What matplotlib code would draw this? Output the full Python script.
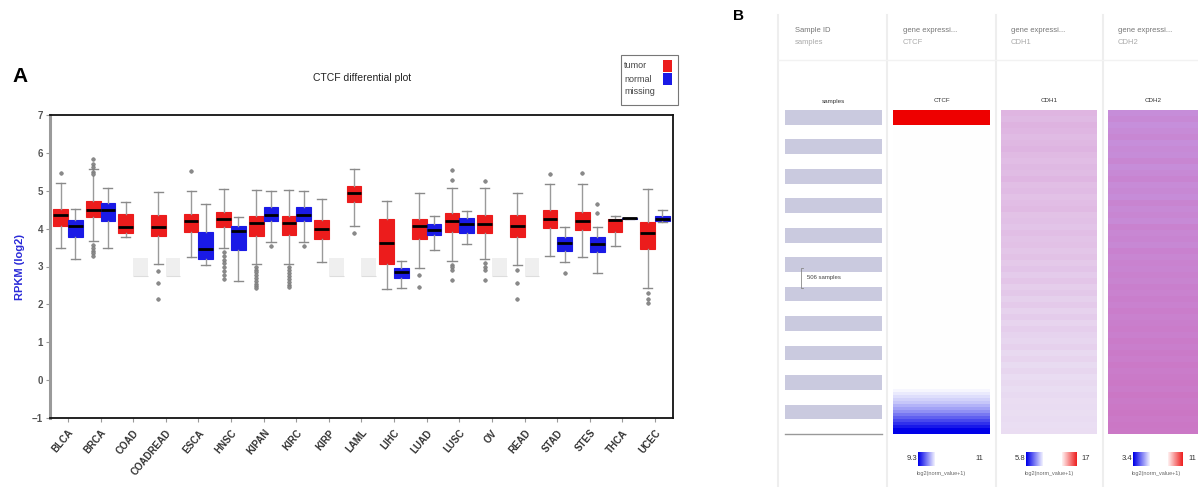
import numpy as np
import matplotlib
matplotlib.use("Agg")
from matplotlib import pyplot as plt
from matplotlib.patches import Rectangle
from matplotlib.colors import LinearSegmentedColormap, ListedColormap, Normalize

plt.rcParams['font.family'] = ['Liberation Sans', 'DejaVu Sans']

# ---- panel A data (RPKM log2) ----
cancers = ['BLCA', 'BRCA', 'COAD', 'COADREAD', 'ESCA', 'HNSC', 'KIPAN', 'KIRC', 'KIRP',
           'LAML', 'LIHC', 'LUAD', 'LUSC', 'OV', 'READ', 'STAD', 'STES', 'THCA', 'UCEC']

tumor_med = [4.36, 4.50, 4.04, 4.04, 4.19, 4.26, 4.14, 4.15, 3.99, 4.94, 3.61, 4.08, 4.19, 4.12, 4.06, 4.26, 4.21, 4.23, 3.88]
tumor_q1 = [4.08, 4.30, 3.88, 3.81, 3.90, 4.05, 3.81, 3.83, 3.73, 4.70, 3.06, 3.73, 3.90, 3.88, 3.79, 4.01, 3.97, 3.90, 3.46]
tumor_q3 = [4.52, 4.74, 4.39, 4.37, 4.39, 4.43, 4.33, 4.33, 4.23, 5.12, 4.26, 4.26, 4.41, 4.35, 4.36, 4.48, 4.43, 4.26, 4.17]
tumor_lo = [3.50, 3.68, 3.77, 3.06, 3.24, 3.50, 3.06, 3.06, 3.12, 4.08, 2.40, 2.96, 3.15, 3.19, 3.04, 3.28, 3.26, 3.55, 2.44]
tumor_hi = [5.21, 5.58, 4.70, 4.96, 4.99, 5.05, 5.03, 5.03, 4.79, 5.58, 4.74, 4.95, 5.08, 5.08, 4.95, 5.17, 5.17, 4.33, 5.04]
tumor_fliers = [
    [5.47],
    [5.83, 5.70, 5.62, 5.50, 5.45, 3.58, 3.50, 3.42, 3.35, 3.28],
    [],
    [2.88, 2.56, 2.13],
    [5.52],
    [3.38, 3.28, 3.18, 3.08, 2.98, 2.88, 2.78, 2.68],
    [3.00, 2.92, 2.85, 2.78, 2.70, 2.62, 2.55, 2.48, 2.42],
    [3.00, 2.92, 2.84, 2.76, 2.68, 2.60, 2.52, 2.45],
    [],
    [3.88],
    [],
    [2.78, 2.46],
    [5.54, 5.29, 3.05, 2.98, 2.92, 2.64],
    [5.27, 3.10, 3.00, 2.92, 2.64],
    [2.90, 2.56, 2.13],
    [5.43],
    [5.47],
    [],
    [2.30, 2.15, 2.04],
]

# None = no normal samples ("missing")
normal_med = [4.08, 4.50, None, None, 3.46, 3.95, 4.37, 4.37, None, None, 2.86, 3.96, 4.12, None, None, 3.62, 3.59, 4.27, 4.26]
normal_q1 = [3.79, 4.21, None, None, 3.19, 3.44, 4.21, 4.21, None, None, 2.69, 3.84, 3.88, None, None, 3.42, 3.39, 4.25, 4.19]
normal_q3 = [4.23, 4.67, None, None, 3.92, 4.06, 4.58, 4.58, None, None, 2.96, 4.11, 4.27, None, None, 3.77, 3.77, 4.29, 4.33]
normal_lo = [3.19, 3.50, None, None, 3.04, 2.62, 3.64, 3.64, None, None, 2.42, 3.43, 3.59, None, None, 3.11, 2.84, 4.25, 4.17]
normal_hi = [4.51, 5.08, None, None, 4.64, 4.30, 4.99, 4.99, None, None, 3.15, 4.33, 4.46, None, None, 4.04, 4.04, 4.29, 4.48]
normal_fliers = [[], [], [], [], [], [], [3.55], [3.55], [], [], [], [], [], [], [], [2.84], [4.64, 4.42], [], []]

missing_lo, missing_hi = 2.75, 3.22

# ---- panel B data (heatmap rows, top to bottom) ----
sample_rows = [1, 0] * 11
ctcf_rows = ([11.0, 11.0, 11.0, 11.0, 11.0] + [10.15] * 88 +
             [10.12, 10.08, 10.04, 10.0, 9.96, 9.9, 9.84, 9.78, 9.7, 9.62, 9.54, 9.46, 9.38, 9.3, 9.3])
cdh1_rows = [12.9, 12.6, 13.1, 12.8, 12.4, 12.7, 13.0, 12.5, 12.2, 12.6, 12.3, 12.8, 12.1, 12.4,
             11.9, 12.2, 12.5, 11.8, 12.0, 11.6, 12.1, 11.7, 11.9, 11.4, 11.8, 11.2, 11.6, 11.0,
             11.5, 10.8, 11.3, 10.6, 11.1, 10.4, 10.9, 10.2, 10.7, 10.3, 10.0, 10.5, 9.8, 10.2,
             9.6, 10.0, 9.5, 9.8, 9.3, 9.7, 9.2, 9.5, 9.1, 9.4, 9.0, 9.2]
cdh2_rows = [6.2, 6.6, 6.0, 6.4, 6.8, 6.1, 6.5, 6.3, 6.9, 6.2, 6.6, 7.0, 6.4, 6.7, 6.3, 7.1, 6.6,
             6.9, 6.5, 7.2, 6.8, 7.0, 6.7, 7.3, 6.9, 7.2, 7.0, 7.4, 7.1, 7.5, 7.2, 7.6, 7.3, 7.7,
             7.4, 7.6, 7.8, 7.5, 7.9, 7.6, 8.0, 7.7, 8.1, 7.8, 8.0, 8.2, 7.9, 8.3, 8.0, 8.2, 8.4,
             8.1, 8.3, 8.2]
ctcf_range = (9.3, 11)
cdh1_range = (5.8, 17)
cdh2_range = (3.4, 11)

RED = '#ec1c1c'
BLUE = '#1a1ae6'

W, H = 1198, 487
fig = plt.figure(figsize=(W / 100, H / 100), dpi=100)
fig.patch.set_facecolor('white')

# ================= panel A =================
ax = fig.add_axes([50 / W, 1 - 418 / H, 623 / W, 303 / H])
pos = np.arange(len(cancers))
off, bw = 0.225, 0.45


def stats(med, q1, q3, lo, hi, fl):
    out = []
    for i in range(len(med)):
        if med[i] is None:
            continue
        out.append(dict(med=med[i], q1=q1[i], q3=q3[i], whislo=lo[i], whishi=hi[i], fliers=fl[i]))
    return out


def draw(st, positions, color):
    ax.bxp(st, positions=positions, widths=bw, patch_artist=True, showfliers=True,
           boxprops=dict(facecolor=color, edgecolor=color, linewidth=0.8),
           medianprops=dict(color='black', linewidth=2),
           whiskerprops=dict(color='#9a9a9a', linewidth=1),
           capprops=dict(color='#8a8a8a', linewidth=1),
           capwidths=0.28,
           flierprops=dict(marker='o', markersize=2.6, markerfacecolor='#8a8a8a',
                           markeredgecolor='#777777', markeredgewidth=0.4))


draw(stats(tumor_med, tumor_q1, tumor_q3, tumor_lo, tumor_hi, tumor_fliers), pos - off, RED)
npos = [p + off for p, m in zip(pos, normal_med) if m is not None]
draw(stats(normal_med, normal_q1, normal_q3, normal_lo, normal_hi, normal_fliers), npos, BLUE)

miss = [p + off for p, m in zip(pos, normal_med) if m is None]
ax.bar(miss, missing_hi - missing_lo, bottom=missing_lo, width=bw, color='#efefef', zorder=0.5)
ax.hlines([missing_lo] * len(miss), np.array(miss) - bw / 2, np.array(miss) + bw / 2,
          color='#dddddd', linewidth=0.8, zorder=0.6)

ax.set_xlim(-0.55, len(cancers) - 0.45)
ax.set_ylim(-1, 7)
ax.set_yticks(range(-1, 8))
ax.set_xticks(pos)
ax.set_xticklabels(cancers, rotation=50, ha='right', rotation_mode='anchor',
                   fontsize=7, fontweight='bold', color='#333333')
ax.tick_params(axis='x', length=3, color='#999999', pad=4)
ax.tick_params(axis='y', labelsize=7, labelcolor='#555555', length=3, color='#999999', pad=2)
for t in ax.get_yticklabels():
    t.set_fontweight('bold')
for s in ['top', 'right', 'bottom']:
    ax.spines[s].set_color('#111111')
    ax.spines[s].set_linewidth(1.3)
ax.spines['left'].set_color('#9a9a9a')
ax.spines['left'].set_linewidth(2.2)
ax.set_ylabel('RPKM (log2)', color='#2a2ad8', fontsize=8, fontweight='bold', labelpad=5)

fig.text(362 / W, 1 - 78 / H, 'CTCF differential plot', fontsize=7.5, color='#222222',
         ha='center', va='center')
fig.text(20 / W, 1 - 76 / H, 'A', fontsize=15, fontweight='bold', ha='center', va='center')

# legend box (text left, swatch right)
fig.patches.append(Rectangle((621 / W, 1 - 105 / H), 57 / W, 50 / H, transform=fig.transFigure,
                             facecolor='white', edgecolor='#777777', linewidth=0.8))
for lab, col, y in [('tumor', RED, 66), ('normal', BLUE, 79), ('missing', None, 92)]:
    fig.text(624 / W, 1 - y / H, lab, fontsize=6.5, color='#444444', va='center')
    if col is not None:
        fig.patches.append(Rectangle((663 / W, 1 - (y + 6) / H), 9 / W, 12 / H,
                                     transform=fig.transFigure, facecolor=col, edgecolor='none'))

# ================= panel B =================
bx = fig.add_axes([740 / W, 0, 458 / W, 1])
bx.set_axis_off()
fig.text(738 / W, 1 - 16 / H, 'B', fontsize=11, fontweight='bold', ha='center', va='center')

top, bottom = 110, 434
cols = [(785, 882), (893, 990), (1001, 1097), (1108, 1205)]

red_white_blue = LinearSegmentedColormap.from_list('rwb', ['#0000e8', '#ffffff', '#ee0000'])
cdh1_cmap = LinearSegmentedColormap.from_list('cdh1', ['#f4f0fa', '#e9dcf2', '#deb2e0', '#cc88cc'])
cdh2_cmap = LinearSegmentedColormap.from_list('cdh2', ['#dab4ea', '#c690dc', '#cc76c4', '#c85aa8'])

bx.imshow(np.array(sample_rows)[:, None], cmap=ListedColormap(['white', '#cacadf']),
          aspect='auto', interpolation='nearest', extent=(cols[0][0], cols[0][1], bottom, top))
bx.imshow(np.array(ctcf_rows)[:, None], cmap=red_white_blue, norm=Normalize(*ctcf_range),
          aspect='auto', interpolation='nearest', extent=(cols[1][0], cols[1][1], bottom, top))
bx.imshow(np.array(cdh1_rows)[:, None], cmap=cdh1_cmap, norm=Normalize(*cdh1_range),
          aspect='auto', interpolation='nearest', extent=(cols[2][0], cols[2][1], bottom, top))
bx.imshow(np.array(cdh2_rows)[:, None], cmap=cdh2_cmap, norm=Normalize(*cdh2_range),
          aspect='auto', interpolation='nearest', extent=(cols[3][0], cols[3][1], bottom, top))

for x in [778, 887, 996, 1103]:
    bx.plot([x, x], [15, 487], color='#eeeeee', linewidth=1.5)
bx.plot([778, 1198], [60, 60], color='#f2f2f2', linewidth=1)
bx.plot([785, 882], [434, 434], color='#999999', linewidth=1)

heads = [('Sample ID', 'samples', 'samples'), ('gene expressi...', 'CTCF', 'CTCF'),
         ('gene expressi...', 'CDH1', 'CDH1'), ('gene expressi...', 'CDH2', 'CDH2')]
for (x0, x1), (h1, h2, lab) in zip(cols, heads):
    bx.text(x0 + 10, 30, h1, fontsize=5.5, color='#777777', va='center')
    bx.text(x0 + 10, 43, h2, fontsize=5.5, color='#aaaaaa', va='center')
    bx.text((x0 + min(x1, 1198)) / 2, 101, lab, fontsize=4.5, color='#333333',
            ha='center', va='center')

bx.plot([803, 801, 801, 803], [268, 268, 288, 288], color='#888888', linewidth=0.6)
bx.text(807, 278, '506 samples', fontsize=4.3, color='#444444', va='center')

# bottom colour keys
grad = np.linspace(0, 1, 20)[None, :]
blue_key = LinearSegmentedColormap.from_list('bk', ['#0000e8', '#eeeeff'])
red_key = LinearSegmentedColormap.from_list('rk', ['#ffeeee', '#ee2222'])
keys = [(ctcf_range, 918, None, 975), (cdh1_range, 1026, 1062, 1081), (cdh2_range, 1133, 1168, 1188)]
for (lo, hi), bxs, rxs, tx in keys:
    bx.text(bxs - 1, 459, f'{lo:g}', fontsize=5.5, color='#333333', ha='right', va='center')
    bx.imshow(grad, cmap=blue_key, aspect='auto', extent=(bxs, bxs + 17, 466, 452))
    if rxs is not None:
        bx.imshow(grad, cmap=red_key, aspect='auto', extent=(rxs, rxs + 15, 466, 452))
    bx.text(tx, 459, f'{hi:g}', fontsize=5.5, color='#333333', ha='left', va='center')
    bx.text(bxs + 23, 473, 'log2(norm_value+1)', fontsize=4, color='#666666',
            ha='center', va='center')

bx.set_xlim(740, 1198)
bx.set_ylim(487, 0)

fig.savefig('out.png', dpi=100)
